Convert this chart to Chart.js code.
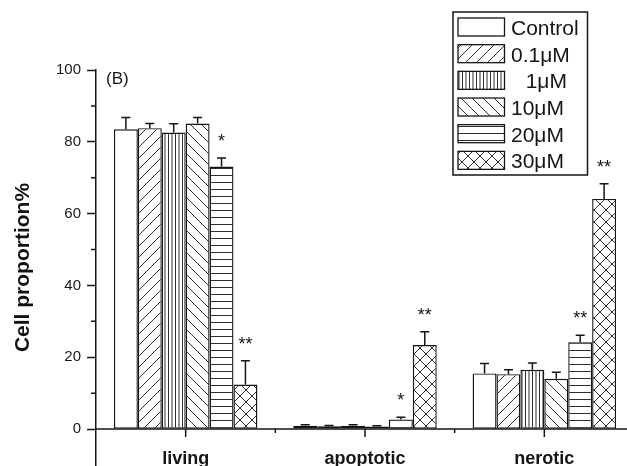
<!DOCTYPE html>
<html><head><meta charset="utf-8">
<script src="https://cdn.jsdelivr.net/npm/chart.js@4"></script>
<style>html,body{margin:0;padding:0;background:#fff;overflow:hidden;width:627px;height:466px;}canvas{display:block;}</style>
</head><body>
<canvas id="c" width="645" height="480"></canvas>
<script>
// ---- data ----
const categories = ['living', 'apoptotic', 'nerotic'];
const seriesNames = ['Control', '0.1μM', '1μM', '10μM', '20μM', '30μM'];
const control = [83.5, 0.9, 15.5];
const conc01 = [83.8, 0.8, 15.3];
const conc1 = [82.6, 0.9, 16.5];
const conc10 = [85.1, 0.7, 14.0];
const conc20 = [73.1, 2.7, 24.2];
const conc30 = [12.4, 23.4, 64.1];
const errControl = [3.3, 0.3, 2.8];
const err01 = [1.3, 0.2, 1.2];
const err1 = [2.4, 0.3, 1.9];
const err10 = [1.7, 0.2, 1.8];
const err20 = [2.4, 0.6, 1.9];
const err30 = [6.6, 3.7, 4.2];
const marks = [['', '', ''], ['', '', ''], ['', '', ''], ['', '', ''], ['*', '*', '**'], ['**', '**', '**']];
const yMajorTicks = [0, 20, 40, 60, 80, 100];
const yMinorTicks = [10, 30, 50, 70, 90];
const panelLabel = '(B)';

const values = [control, conc01, conc1, conc10, conc20, conc30];
const errors = [errControl, err01, err1, err10, err20, err30];
const patternKinds = ['blank', 'slash', 'vert', 'back', 'horiz', 'cross'];

const INK = '#151515';
const FONT = '"Liberation Sans", Arial, sans-serif';
const canvas = document.getElementById('c');
const mainCtx = canvas.getContext('2d');

function makePattern(kind) {
  const s = {blank: 8, slash: 11, vert: 7, back: 11, horiz: 7, cross: 12}[kind];
  const pc = document.createElement('canvas');
  pc.width = s; pc.height = s;
  const g = pc.getContext('2d');
  g.fillStyle = '#fff'; g.fillRect(0, 0, s, s);
  g.strokeStyle = '#2e2e2e'; g.lineWidth = 1;
  g.beginPath();
  if (kind === 'slash' || kind === 'cross') {
    g.moveTo(-1, s + 1); g.lineTo(s + 1, -1);
    g.moveTo(-1, 1); g.lineTo(1, -1);
    g.moveTo(s - 1, s + 1); g.lineTo(s + 1, s - 1);
  }
  if (kind === 'back' || kind === 'cross') {
    g.moveTo(-1, -1); g.lineTo(s + 1, s + 1);
    g.moveTo(s - 1, -1); g.lineTo(s + 1, 1);
    g.moveTo(-1, s - 1); g.lineTo(1, s + 1);
  }
  if (kind === 'vert') { g.moveTo(0.5, 0); g.lineTo(0.5, s); g.moveTo(4, 0); g.lineTo(4, s); }
  if (kind === 'horiz') { g.moveTo(0, 0.5); g.lineTo(s, 0.5); }
  g.stroke();
  return mainCtx.createPattern(pc, 'repeat');
}
const patterns = patternKinds.map(makePattern);

const extras = {
  id: 'extras',
  afterDatasetsDraw(chart) {
    const ctx = chart.ctx;
    const y = chart.scales.y;
    const x = chart.scales.x;
    ctx.save();
    // error bars (upper half) and significance marks
    chart.data.datasets.forEach((ds, di) => {
      const meta = chart.getDatasetMeta(di);
      meta.data.forEach((bar, i) => {
        const top = y.getPixelForValue(values[di][i] + errors[di][i]);
        const base = y.getPixelForValue(values[di][i]);
        ctx.strokeStyle = INK; ctx.lineWidth = 1.5;
        ctx.beginPath();
        ctx.moveTo(bar.x, base); ctx.lineTo(bar.x, top);
        ctx.moveTo(bar.x - 4.5, top); ctx.lineTo(bar.x + 4.5, top);
        ctx.stroke();
        const m = marks[di][i];
        if (m) {
          ctx.fillStyle = INK;
          ctx.font = '18px ' + FONT;
          ctx.textAlign = 'center'; ctx.textBaseline = 'alphabetic';
          ctx.fillText(m, bar.x, top - 11);
        }
      });
    });
    // x axis drawn at y = 0
    const y0 = y.getPixelForValue(0);
    ctx.strokeStyle = INK; ctx.lineWidth = 1.5;
    ctx.beginPath();
    ctx.moveTo(chart.chartArea.left, y0); ctx.lineTo(chart.chartArea.right, y0);
    categories.forEach((c, i) => {
      const cx = x.getPixelForValue(i);
      ctx.moveTo(cx, y0); ctx.lineTo(cx, y0 + 8);
      if (i > 0) {
        const bx = (x.getPixelForValue(i - 1) + cx) / 2;
        ctx.moveTo(bx, y0); ctx.lineTo(bx, y0 + 4);
      }
    });
    // minor y ticks
    yMinorTicks.forEach(v => {
      const py = y.getPixelForValue(v);
      ctx.moveTo(chart.chartArea.left, py); ctx.lineTo(chart.chartArea.left - 5, py);
    });
    ctx.stroke();
    ctx.fillStyle = INK;
    ctx.font = 'bold 18px ' + FONT;
    ctx.textAlign = 'center'; ctx.textBaseline = 'alphabetic';
    categories.forEach((c, i) => ctx.fillText(c, x.getPixelForValue(i), 464));
    // panel label
    ctx.font = '17px ' + FONT;
    ctx.textAlign = 'left';
    ctx.fillText(panelLabel, 106, 84);
    // legend
    ctx.lineWidth = 1.5;
    ctx.strokeStyle = INK;
    ctx.fillStyle = '#fff';
    ctx.fillRect(453, 12, 134.5, 163);
    ctx.strokeRect(453, 12, 134.5, 163);
    ctx.font = '21px ' + FONT;
    chart.data.datasets.forEach((ds, di) => {
      const top = 18 + di * 26.67;
      ctx.fillStyle = ds.backgroundColor;
      ctx.fillRect(458, top, 46.5, 18);
      ctx.lineWidth = 1.3;
      ctx.strokeRect(458, top, 46.5, 18);
      ctx.fillStyle = INK;
      const lbl = ds.label;
      const dx = lbl === '1μM' ? ctx.measureText('0').width + 3 : 0;
      ctx.fillText(lbl, 511 + dx, top + 17);
    });
    ctx.restore();
  }
};

new Chart(canvas, {
  type: 'bar',
  data: {
    labels: categories,
    datasets: seriesNames.map((name, di) => ({
      label: name,
      data: values[di],
      backgroundColor: patterns[di],
      borderColor: INK,
      borderWidth: 1.4,
      borderSkipped: false,
      categoryPercentage: 0.8,
      barPercentage: 1.0
    }))
  },
  options: {
    responsive: false,
    animation: false,
    events: [],
    layout: {padding: {left: 0, top: 70, right: 11, bottom: 15}},
    plugins: {legend: {display: false}, tooltip: {enabled: false}},
    scales: {
      x: {display: false, offset: true},
      y: {
        min: -10, max: 100,
        afterFit(scale) { scale.width = 96; },
        afterBuildTicks(scale) { scale.ticks = yMajorTicks.map(v => ({value: v})); },
        ticks: {color: '#1a1a1a', font: {family: FONT, size: 15}, padding: 6},
        grid: {display: true, drawOnChartArea: false, drawTicks: true, tickLength: 9, tickColor: INK, tickWidth: 1.5},
        border: {display: true, color: INK, width: 1.5},
        title: {display: true, text: 'Cell proportion%', color: '#111', font: {family: FONT, size: 21, weight: 'bold'}, padding: {top: 11, bottom: 0}}
      }
    }
  },
  plugins: [extras]
});
</script>
</body></html>
